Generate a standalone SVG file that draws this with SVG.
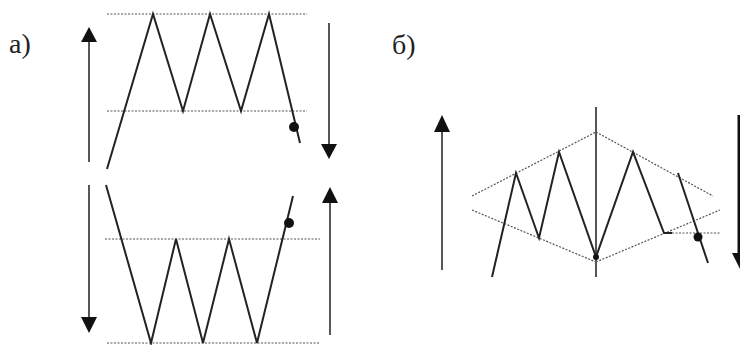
<svg xmlns="http://www.w3.org/2000/svg" width="740" height="345" viewBox="0 0 740 345">
<defs>
<style>
.lbl{font-family:"Liberation Serif","DejaVu Serif",serif;font-size:28px;fill:#222}
.dot{stroke:#555;stroke-width:1.2;stroke-dasharray:2 1.5;fill:none}
.zz{stroke:#222;stroke-width:2;fill:none;stroke-linejoin:miter}
.shaft{stroke:#444;stroke-width:1.8;fill:none}
.head{fill:#111}
.mark{fill:#111}
</style>
</defs>
<rect width="740" height="345" fill="#fff"/>
<text class="lbl" x="9" y="53">а)</text>
<text class="lbl" x="392" y="54">б)</text>

<g id="panel-a-top">
<line class="dot" x1="107" y1="14" x2="307" y2="14"/>
<line class="dot" x1="107" y1="111" x2="307" y2="111"/>
<polyline class="zz" points="107,169 153,14 183,111 210,14 241,111 269,14 300,143"/>
<circle class="mark" cx="294" cy="127" r="5"/>
</g>

<g id="panel-a-bottom">
<line class="dot" x1="105" y1="239" x2="320" y2="239"/>
<line class="dot" x1="107" y1="343" x2="320" y2="343"/>
<polyline class="zz" points="106,185 151,343 176,239 203,343 229,239 257,343 293,196"/>
<circle class="mark" cx="289" cy="223" r="5"/>
</g>

<g id="panel-b">
<line class="dot" x1="472" y1="196" x2="596" y2="132"/>
<line class="dot" x1="596" y1="132" x2="713" y2="196"/>
<line class="dot" x1="472" y1="210" x2="596" y2="262"/>
<line class="dot" x1="596" y1="262" x2="720" y2="210"/>
<line class="dot" x1="665" y1="233" x2="720" y2="233"/>
<line x1="596" y1="107" x2="596" y2="277" stroke="#555" stroke-width="2"/>
<polyline class="zz" points="492,277 516,173 539,238 559,152 596,257 633,152 664,233 672,233"/>
<line class="zz" x1="678" y1="173" x2="708" y2="263"/>
<circle class="mark" cx="698" cy="237" r="4.5"/>
<circle class="mark" cx="596" cy="257" r="3"/>
</g>

<g id="connectors">
<line class="shaft" x1="89" y1="162" x2="89" y2="40"/>
<polygon class="head" points="89,27 81,42 97,42"/>
<line class="shaft" x1="329" y1="23" x2="329" y2="146"/>
<polygon class="head" points="329,159 321,144 337,144"/>
<line class="shaft" x1="89" y1="185" x2="89" y2="320"/>
<polygon class="head" points="89,333 81,317 97,317"/>
<line class="shaft" x1="330" y1="335" x2="330" y2="200"/>
<polygon class="head" points="330,187 322,203 338,203"/>
<line class="shaft" x1="442" y1="270" x2="442" y2="128"/>
<polygon class="head" points="442,115 434,132 450,132"/>
<line x1="739" y1="115" x2="739" y2="256" stroke="#111" stroke-width="3"/>
<polygon class="head" points="740,269 732,253 748,253"/>
</g>
</svg>
